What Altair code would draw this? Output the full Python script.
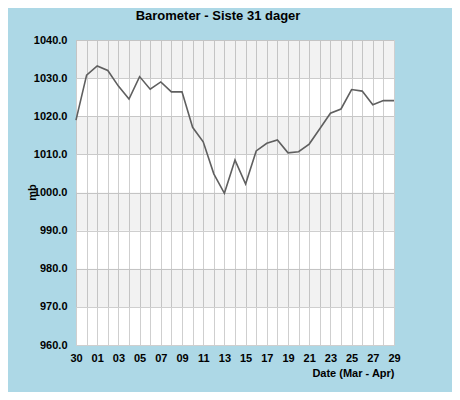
import json
import altair as alt
import pandas as pd

days = ["30", "31", "01", "02", "03", "04", "05", "06", "07", "08", "09", "10",
        "11", "12", "13", "14", "15", "16", "17", "18", "19", "20", "21", "22",
        "23", "24", "25", "26", "27", "28", "29"]
pressure = [1019.0, 1030.8, 1033.2, 1032.0, 1027.9, 1024.5, 1030.4, 1027.1,
            1029.0, 1026.4, 1026.4, 1017.1, 1013.3, 1004.9, 999.8, 1008.5,
            1002.2, 1010.9, 1012.9, 1013.8, 1010.4, 1010.7, 1012.7, 1016.7,
            1020.8, 1021.9, 1027.0, 1026.6, 1023.0, 1024.1, 1024.1]
band_low = [970, 990, 1010, 1030]
band_high = [980, 1000, 1020, 1040]
y_ticks = [960, 970, 980, 990, 1000, 1010, 1020, 1030, 1040]

df = pd.DataFrame({"idx": list(range(len(days))), "day": days, "mb": pressure})
bands = pd.DataFrame({"lo": band_low, "hi": band_high})

FONT = "Liberation Sans"
label_expr = "datum.value % 2 == 0 ? " + json.dumps(days) + "[datum.value] : ''"

y_scale = alt.Scale(domain=[960, 1040], nice=False, zero=False)

x_axis = alt.Axis(
    title="Date (Mar - Apr)", values=list(range(len(days))),
    labelExpr=label_expr, labelOverlap=False, labelFlush=False,
    ticks=False, domain=False, grid=True, gridColor="#cfcfcf",
    labelFont=FONT, labelFontSize=11, labelFontWeight="bold", labelColor="#000",
    labelPadding=7,
    titleFont=FONT, titleFontSize=11, titleFontWeight="bold", titleColor="#000",
    titleAnchor="end", titleAlign="right", titlePadding=4,
)
y_axis = alt.Axis(
    title="mb", values=y_ticks, format=".1f",
    labelOverlap=False, labelFlush=False, tickCount=9,
    ticks=False, domain=False, grid=True, gridColor="#cfcfcf",
    labelFont=FONT, labelFontSize=11, labelFontWeight="bold", labelColor="#000",
    labelPadding=9,
    titleFont=FONT, titleFontSize=11, titleFontWeight="bold", titleColor="#000",
    titleAngle=-90, titleX=-41, titleY=152, titleAlign="center",
    titleBaseline="alphabetic",
)

band_layer = alt.Chart(bands).mark_rect(color="#000000", opacity=0.05).encode(
    y=alt.Y("lo:Q", scale=y_scale, axis=y_axis),
    y2="hi:Q",
    x=alt.value(0),
    x2=alt.value(318),
)

line_layer = alt.Chart(df).mark_line(color="#5f5f5f", strokeWidth=1.6).encode(
    x=alt.X("idx:Q", scale=alt.Scale(domain=[0, len(days) - 1], nice=False, zero=False),
            axis=x_axis),
    y=alt.Y("mb:Q", scale=y_scale, axis=y_axis),
)

chart = alt.layer(band_layer, line_layer).properties(
    width=318,
    height=305,
    title=alt.TitleParams(
        "Barometer - Siste 31 dager", font=FONT, fontSize=13, fontWeight="bold",
        color="#000", anchor="middle", dx=-17, offset=11,
    ),
    background="#add8e6",
    padding={"left": 68, "top": 32, "right": 58, "bottom": 47},
    autosize=alt.AutoSizeParams(type="none"),
).configure_view(fill="#ffffff", stroke="#cfcfcf")

chart.save("out.html", embed_options={"renderer": "svg", "actions": False})
